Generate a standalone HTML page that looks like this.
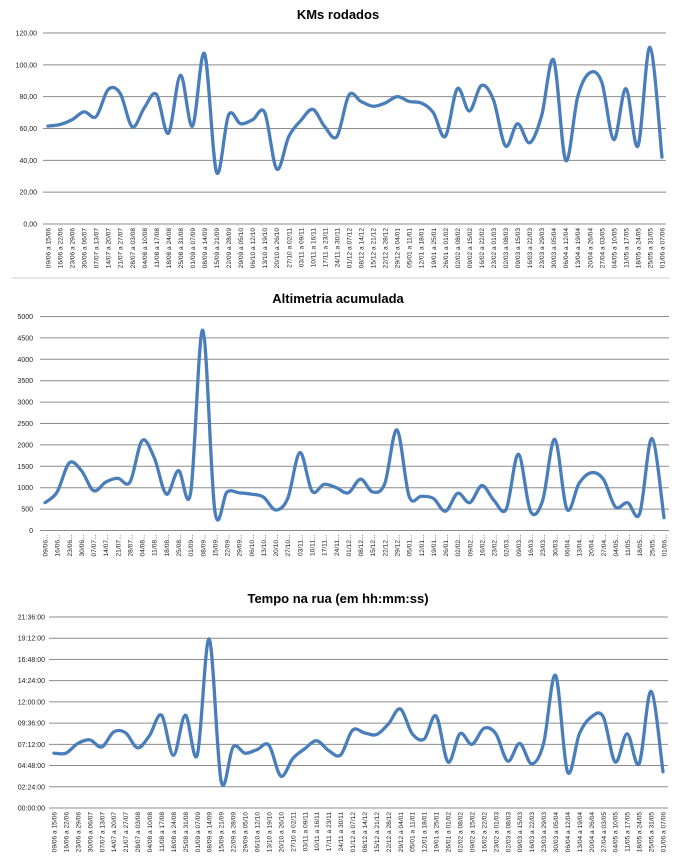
<!DOCTYPE html>
<html><head><meta charset="utf-8"><style>
html,body{margin:0;padding:0;background:#fff;width:676px;height:858px;overflow:hidden}
svg{display:block;font-family:"Liberation Sans",sans-serif}
</style></head><body>
<svg id="s" width="676" height="858" viewBox="0 0 676 858" xmlns="http://www.w3.org/2000/svg"></svg>
<script>
const starts=["09/06","16/06","23/06","30/06","07/07","14/07","21/07","28/07","04/08","11/08","18/08","25/08","01/09","08/09","15/09","22/09","29/09","06/10","13/10","20/10","27/10","03/11","10/11","17/11","24/11","01/12","08/12","15/12","22/12","29/12","05/01","12/01","19/01","26/01","02/02","09/02","16/02","23/02","02/03","09/03","16/03","23/03","30/03","06/04","13/04","20/04","27/04","04/05","11/05","18/05","25/05","01/06"];
const ends=["15/06","22/06","29/06","06/07","13/07","20/07","27/07","03/08","10/08","17/08","24/08","31/08","07/09","14/09","21/09","28/09","05/10","12/10","19/10","26/10","02/11","09/11","16/11","23/11","30/11","07/12","14/12","21/12","28/12","04/01","11/01","18/01","25/01","01/02","08/02","15/02","22/02","01/03","08/03","15/03","22/03","29/03","05/04","12/04","19/04","26/04","03/05","10/05","17/05","24/05","31/05","07/06"];
const km=[61.5,62.5,65.5,70.5,67.5,84.5,82,61,73,81.5,57,93.5,61.5,107,32.5,68.5,63,65.5,70,34.5,55,65,72,61,55,81,77,74,76,80,77,76,70,55,85,71,87,78,49,63,51,68,103,40,80,95,89,53,85,49,111,42];
const alt=[650,900,1580,1400,930,1130,1220,1130,2100,1700,850,1400,880,4680,450,900,880,850,780,480,750,1820,920,1080,1000,880,1200,900,1100,2350,800,800,750,450,870,650,1050,700,500,1780,450,700,2130,500,1100,1350,1200,550,650,400,2150,300];
const tm=[6.2,6.2,7.3,7.7,6.9,8.6,8.5,6.8,8.2,10.5,5.95,10.5,6,19.1,3.0,6.9,6.2,6.6,7.1,3.6,5.6,6.7,7.6,6.5,6,8.8,8.5,8.3,9.5,11.2,8.4,7.8,10.4,5.2,8.4,7.2,9,8.4,5.3,7.3,5,7.3,15,4.1,8.4,10.3,10.3,5.2,8.4,5,13.2,4.1];
let out="";
function smooth(p){let d=`M${p[0][0]},${p[0][1]}`;for(let i=0;i<p.length-1;i++){const p0=p[i-1]||p[i],p1=p[i],p2=p[i+1],p3=p[i+2]||p2;const t=6;d+=` C${p1[0]+(p2[0]-p0[0])/t},${p1[1]+(p2[1]-p0[1])/t} ${p2[0]-(p3[0]-p1[0])/t},${p2[1]-(p3[1]-p1[1])/t} ${p2[0]},${p2[1]}`;}return d;}
function chart(o){
 out+=`<text x="${o.tx}" y="${o.ty}" font-size="13" font-weight="bold" text-anchor="middle">${o.title}</text>`;
 for(let i=0;i<=o.n;i++){const y=o.y0-(o.y0-o.y1)*i/o.n;
  out+=`<line x1="${o.gx0}" x2="${o.gx1}" y1="${y}" y2="${y}" stroke="#8c8c8c" stroke-width="1"/>`;
  out+=`<text x="${o.lx}" y="${y+2.5}" font-size="7" text-anchor="end" fill="#222">${o.lab(i)}</text>`;}
 const p=o.data.map((v,i)=>[o.x0+i*(o.x1-o.x0)/51,o.y0-(o.y0-o.y1)*v/o.max]);
 for(let i=0;i<52;i++){const x=p[i][0]+2.5;out+=`<text transform="translate(${x},${o.y0+4}) rotate(-90)" font-size="6.6" text-anchor="end" fill="#222">${o.xl(i)}</text>`;}
 out+=`<path d="${smooth(p)}" fill="none" stroke="#4a7ebb" stroke-width="3.3" stroke-linejoin="round" stroke-linecap="round"/>`;
}
function hm(h){const m=Math.round(h*60);return String(Math.floor(m/60)).padStart(2,"0")+":"+String(m%60).padStart(2,"0")+":00";}
chart({title:"KMs rodados",tx:338,ty:19,n:6,y0:224,y1:33,gx0:43,gx1:666,lx:37,lab:i=>(i*20).toFixed(2).replace(".",","),data:km,max:120,x0:48,x1:662,xl:i=>starts[i]+" a "+ends[i]});
out+=`<line x1="12" x2="670" y1="278" y2="278" stroke="#ddd" stroke-width="1.5"/>`;
chart({title:"Altimetria acumulada",tx:338,ty:303,n:10,y0:530.5,y1:316.5,gx0:40,gx1:669,lx:33,lab:i=>i*500,data:alt,max:5000,x0:45,x1:664,xl:i=>starts[i]+"..."});
chart({title:"Tempo na rua (em hh:mm:ss)",tx:338,ty:603,n:9,y0:808,y1:617,gx0:49,gx1:668,lx:45,lab:i=>hm(i*2.4),data:tm,max:21.6,x0:54,x1:663,xl:i=>starts[i]+" a "+ends[i]});
document.getElementById("s").innerHTML=out;
</script>
</body></html>
